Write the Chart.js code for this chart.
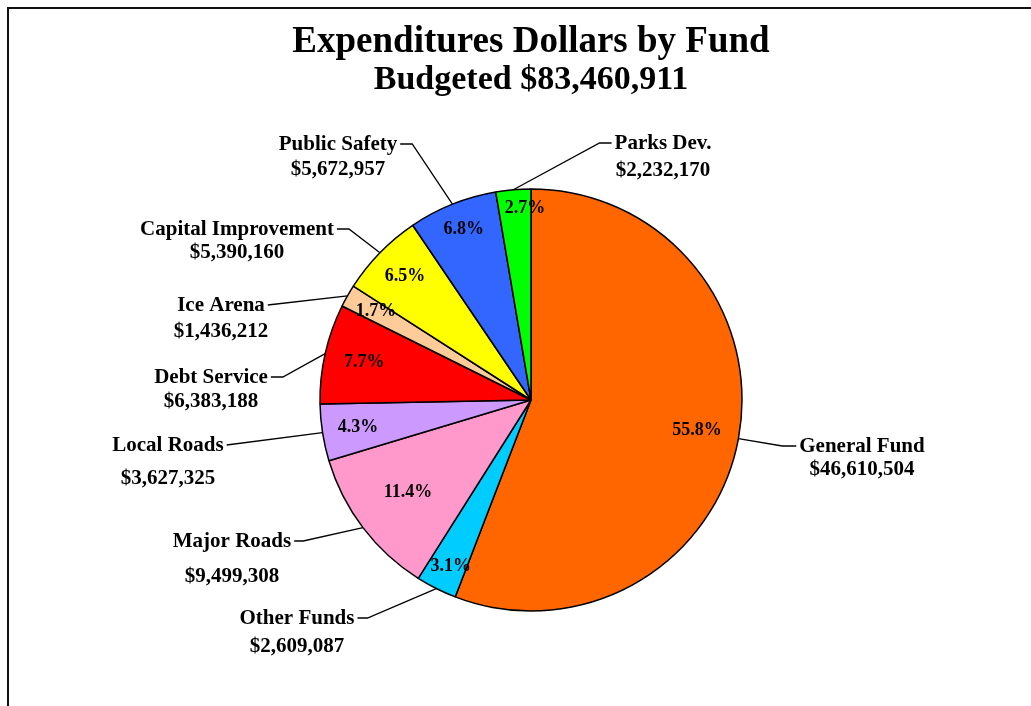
<!DOCTYPE html>
<html>
<head>
<meta charset="utf-8">
<title>Expenditures Dollars by Fund</title>
<script src="https://cdn.jsdelivr.net/npm/chart.js@4/dist/chart.umd.min.js"></script>
<style>
  html, body { margin: 0; padding: 0; background: #fff; }
  #wrap { width: 1031px; height: 706px; position: relative; }
</style>
</head>
<body>
<div id="wrap"><canvas id="fundChart"></canvas></div>
<script>
const funds = ["General Fund", "Other Funds", "Major Roads", "Local Roads", "Debt Service",
  "Ice Arena", "Capital Improvement", "Public Safety", "Parks Dev."];
const dollars = [46610504, 2609087, 9499308, 3627325, 6383188, 1436212, 5390160, 5672957, 2232170];
const pctText = ["55.8%", "3.1%", "11.4%", "4.3%", "7.7%", "1.7%", "6.5%", "6.8%", "2.7%"];
const fundColors = ["#FF6600", "#00CCFF", "#FF99CC", "#CC99FF", "#FF0000",
  "#FFCC99", "#FFFF00", "#3366FF", "#00FF00"];

const totalBudget = dollars.reduce((a, b) => a + b, 0);
const money = (v) => "$" + v.toLocaleString("en-US");

// name/value text placement and the short horizontal stub of each leader line
const labelSpots = [
  { x: 862, y: 447, vy: 470, knee: 14 },
  { x: 297, y: 619, vy: 647, knee: 10 },
  { x: 232, y: 542, vy: 577, knee: 9 },
  { x: 168, y: 446, vy: 479, knee: 0 },
  { x: 211, y: 378, vy: 402, knee: 12 },
  { x: 221, y: 306, vy: 332, knee: 0 },
  { x: 237, y: 230, vy: 253, knee: 12 },
  { x: 338, y: 145, vy: 170, knee: 12 },
  { x: 663, y: 144, vy: 171, knee: 12 }
];
// how far out (fraction of radius) the percent text sits in each slice, plus a sideways nudge
const pctRadius = [0.80, 0.88, 0.72, 0.83, 0.81, 0.85, 0.84, 0.87, 0.91];
const pctNudge = [0, 3, -2, 0, 0, 1, 1, 1, 10];

const serif = "'Liberation Serif', 'Times New Roman', serif";

const framePlugin = {
  id: "frame",
  beforeDraw(chart) {
    const ctx = chart.ctx;
    ctx.save();
    ctx.strokeStyle = "#111";
    ctx.lineWidth = 2;
    ctx.beginPath();
    ctx.moveTo(8, chart.height);
    ctx.lineTo(8, 8);
    ctx.lineTo(chart.width, 8);
    ctx.stroke();
    ctx.restore();
  }
};

const sliceLabels = {
  id: "sliceLabels",
  afterDatasetsDraw(chart) {
    const ctx = chart.ctx;
    const arcs = chart.getDatasetMeta(0).data;
    ctx.save();
    ctx.fillStyle = "#000";
    ctx.strokeStyle = "#000";
    ctx.lineWidth = 1.3;
    ctx.textAlign = "center";
    ctx.textBaseline = "middle";

    arcs.forEach((arc, i) => {
      const { x, y, startAngle, endAngle, outerRadius } =
        arc.getProps(["x", "y", "startAngle", "endAngle", "outerRadius"], true);
      const mid = (startAngle + endAngle) / 2;

      // percent inside the slice
      ctx.font = "bold 18px " + serif;
      ctx.fillText(pctText[i], x + Math.cos(mid) * outerRadius * pctRadius[i] + pctNudge[i],
        y + Math.sin(mid) * outerRadius * pctRadius[i]);

      // fund name and dollar amount outside
      const spot = labelSpots[i];
      ctx.font = "bold 21px " + serif;
      ctx.fillText(funds[i], spot.x, spot.y);
      ctx.fillText(money(dollars[i]), spot.x, spot.vy);

      // leader line from the slice edge to the name
      const w = ctx.measureText(funds[i]).width;
      const right = spot.x > x;
      const ex = right ? spot.x - w / 2 - 3 : spot.x + w / 2 + 3;
      const ey = spot.y - 1;
      const kx = right ? ex - spot.knee : ex + spot.knee;
      ctx.beginPath();
      ctx.moveTo(x + Math.cos(mid) * outerRadius, y + Math.sin(mid) * outerRadius);
      ctx.lineTo(kx, ey);
      ctx.lineTo(ex, ey);
      ctx.stroke();
    });
    ctx.restore();
  }
};

new Chart(document.getElementById("fundChart"), {
  type: "pie",
  data: {
    labels: funds,
    datasets: [{
      data: dollars,
      backgroundColor: fundColors,
      borderColor: "#000",
      borderWidth: 1.5,
      radius: 211
    }]
  },
  options: {
    responsive: true,
    maintainAspectRatio: false,
    animation: false,
    layout: { padding: { left: 131, right: 100, top: 0, bottom: 50 } },
    plugins: {
      legend: { display: false },
      tooltip: { enabled: false },
      title: {
        display: true,
        text: "Expenditures Dollars by Fund",
        color: "#000",
        font: { family: serif, size: 37, weight: "bold", lineHeight: 1.0 },
        padding: { top: 24, bottom: 2 }
      },
      subtitle: {
        display: true,
        text: "Budgeted " + money(totalBudget),
        color: "#000",
        font: { family: serif, size: 34, weight: "bold", lineHeight: 1.0 },
        padding: { top: 0, bottom: 47 }
      }
    }
  },
  plugins: [framePlugin, sliceLabels]
});
</script>
</body>
</html>
